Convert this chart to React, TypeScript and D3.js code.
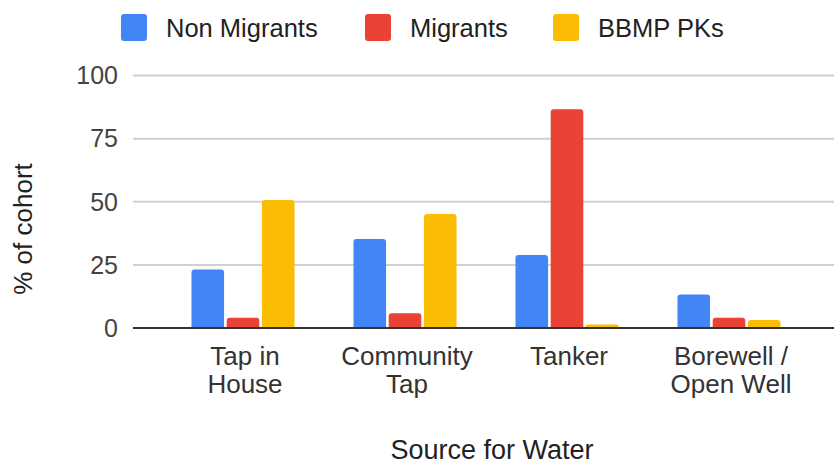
import React, { useEffect, useRef } from 'react';
import * as d3 from 'd3';

const categories = [['Tap in', 'House'], ['Community', 'Tap'], ['Tanker'], ['Borewell /', 'Open Well']];
const seriesNames = ['Non Migrants', 'Migrants', 'BBMP PKs'];
const nonMigrants = [23.2, 35.2, 28.9, 13.3];
const migrants = [4.1, 5.8, 86.6, 4.1];
const bbmpPks = [50.7, 45.1, 1.4, 3.2];
const yTicks = [0, 25, 50, 75, 100];
const colors = ['#4285F4', '#EA4335', '#FBBC04'];

const W = 834;
const H = 466;
const FONT = "Arial, 'Liberation Sans', sans-serif";

// bar with rounded top corners
const barPath = (x: number, y: number, w: number, h: number, r: number) => {
  const rr = Math.min(r, h / 2, w / 2);
  return `M${x},${y + h} L${x},${y + rr} Q${x},${y} ${x + rr},${y} L${x + w - rr},${y} Q${x + w},${y} ${x + w},${y + rr} L${x + w},${y + h} Z`;
};

const App: React.FC = () => {
  const svgRef = useRef<SVGSVGElement>(null);

  useEffect(() => {
    document.body.style.margin = '0';
    if (!svgRef.current) return;
    const svg = d3.select(svgRef.current);
    svg.selectAll('*').remove();

    const series = [nonMigrants, migrants, bbmpPks];
    const keys = categories.map(c => c.join(' '));

    const x0 = d3.scaleBand<string>()
      .domain(keys)
      .range([162, 810])
      .paddingInner(0.364)
      .paddingOuter(0.182);

    const x1 = d3.scaleBand<string>()
      .domain(seriesNames)
      .range([0, x0.bandwidth()])
      .paddingInner(0.075);

    const y = d3.scaleLinear().domain([0, 100]).range([328, 75.5]);

    const gridLeft = 133;
    const gridRight = 834;

    // gridlines
    svg.append('g')
      .selectAll('line')
      .data(yTicks.filter(t => t !== 0))
      .join('line')
      .attr('x1', gridLeft)
      .attr('x2', gridRight)
      .attr('y1', d => y(d))
      .attr('y2', d => y(d))
      .attr('stroke', '#d0d0d0')
      .attr('stroke-width', 2);

    // tick labels
    svg.append('g')
      .selectAll('text')
      .data(yTicks)
      .join('text')
      .attr('x', 118)
      .attr('y', d => y(d))
      .attr('dy', '0.35em')
      .attr('text-anchor', 'end')
      .attr('font-family', FONT)
      .attr('font-size', 25)
      .attr('fill', '#444')
      .text(d => d);

    // bars
    keys.forEach((k, ci) => {
      series.forEach((s, si) => {
        const bx = (x0(k) ?? 0) + (x1(seriesNames[si]) ?? 0);
        const by = y(s[ci]);
        svg.append('path')
          .attr('d', barPath(bx, by, x1.bandwidth(), y(0) - by, 3))
          .attr('fill', colors[si]);
      });
    });

    // baseline
    svg.append('line')
      .attr('x1', gridLeft)
      .attr('x2', gridRight)
      .attr('y1', y(0))
      .attr('y2', y(0))
      .attr('stroke', '#333')
      .attr('stroke-width', 2);

    // x category labels
    categories.forEach((lines, ci) => {
      const cx = (x0(keys[ci]) ?? 0) + x0.bandwidth() / 2 + 2;
      const t = svg.append('text')
        .attr('text-anchor', 'middle')
        .attr('font-family', FONT)
        .attr('font-size', 26)
        .attr('fill', '#333');
      lines.forEach((ln, li) => {
        t.append('tspan').attr('x', cx).attr('y', 365 + li * 28).text(ln);
      });
    });

    // axis titles
    svg.append('text')
      .attr('x', 492)
      .attr('y', 459)
      .attr('text-anchor', 'middle')
      .attr('font-family', FONT)
      .attr('font-size', 27)
      .attr('fill', '#222')
      .text('Source for Water');

    svg.append('text')
      .attr('transform', `translate(32,229) rotate(-90)`)
      .attr('text-anchor', 'middle')
      .attr('font-family', FONT)
      .attr('font-size', 26)
      .attr('fill', '#222')
      .text('% of cohort');

    // legend
    const legendX = [121, 365, 553];
    seriesNames.forEach((name, i) => {
      const g = svg.append('g').attr('transform', `translate(${legendX[i]},14)`);
      g.append('rect')
        .attr('width', 26)
        .attr('height', 27)
        .attr('rx', 3)
        .attr('fill', colors[i]);
      g.append('text')
        .attr('x', 45)
        .attr('y', 14)
        .attr('dy', '0.35em')
        .attr('font-family', FONT)
        .attr('font-size', 25.5)
        .attr('fill', '#222')
        .text(name);
    });
  }, []);

  return <svg ref={svgRef} width={W} height={H} style={{ display: 'block', background: '#fff' }} />;
};

export default App;
